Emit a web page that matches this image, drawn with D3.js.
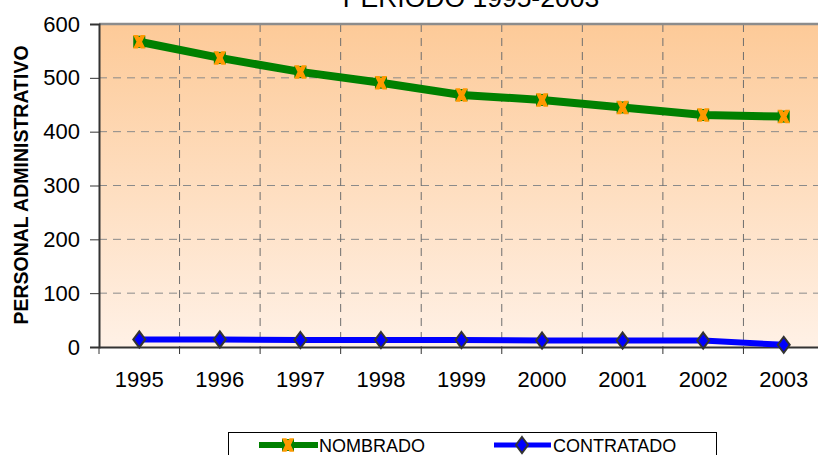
<!DOCTYPE html>
<html>
<head>
<meta charset="utf-8">
<script src="https://cdn.jsdelivr.net/npm/d3@7"></script>
<style>
  body { margin: 0; background: #fff; }
  svg { display: block; font-family: Arial, "Liberation Sans", sans-serif; }
</style>
</head>
<body>
<svg width="818" height="455"></svg>
<script>
var years = ["1995", "1996", "1997", "1998", "1999", "2000", "2001", "2002", "2003"];
var nombrado = [567, 537, 511, 491, 468, 459, 445, 431, 428];
var contratado = [14, 14, 13, 13, 13, 12, 12, 12, 4];
var yTicks = [0, 100, 200, 300, 400, 500, 600];

var svg = d3.select("svg"),
    margin = {top: 24, left: 99},
    width = 725,
    height = 323;

var x = d3.scaleBand().domain(years).range([0, width]),
    y = d3.scaleLinear().domain([0, 600]).range([height, 0]);

var defs = svg.append("defs");
var grad = defs.append("linearGradient").attr("id", "bg")
    .attr("x1", 0).attr("y1", 0).attr("x2", 0).attr("y2", 1);
grad.append("stop").attr("offset", "0%").attr("stop-color", "#fdca98");
grad.append("stop").attr("offset", "100%").attr("stop-color", "#fff1e6");

// title (cut off at top like the original)
svg.append("text")
    .attr("x", 471).attr("y", 7)
    .attr("text-anchor", "middle")
    .attr("font-size", 26.5)
    .text("PERIODO 1995-2003");

var g = svg.append("g")
    .attr("transform", "translate(" + margin.left + "," + margin.top + ")");

g.append("rect")
    .attr("width", width).attr("height", height)
    .attr("fill", "url(#bg)");

// horizontal grid
g.selectAll(".hgrid")
  .data(yTicks.filter(function(d) { return d > 0 && d < 600; }))
  .enter().append("line")
    .attr("x1", 0).attr("x2", width)
    .attr("y1", function(d) { return y(d); })
    .attr("y2", function(d) { return y(d); })
    .attr("stroke", "#8a8a8a")
    .attr("stroke-dasharray", "8,6");

// vertical grid at category boundaries
g.selectAll(".vgrid")
  .data(years.slice(1))
  .enter().append("line")
    .attr("x1", function(d) { return x(d); })
    .attr("x2", function(d) { return x(d); })
    .attr("y1", 0).attr("y2", height)
    .attr("stroke", "#6e6e6e")
    .attr("stroke-dasharray", "8,6");

// top border
g.append("line")
    .attr("x1", 0).attr("x2", width)
    .attr("y1", 0).attr("y2", 0)
    .attr("stroke", "#8c8c8c").attr("stroke-width", 2.5);

// y axis
var yAxis = g.append("g")
    .call(d3.axisLeft(y).tickValues(yTicks).tickSize(9).tickPadding(10));
yAxis.select(".domain").attr("stroke", "#333").attr("stroke-width", 2);
yAxis.selectAll("line").attr("stroke", "#333");
yAxis.selectAll("text").attr("font-size", 22).attr("fill", "#000")
    .attr("font-family", "Arial, Liberation Sans, sans-serif");

// x axis with ticks at band boundaries
var xAxis = g.append("g")
    .attr("transform", "translate(0," + height + ")")
    .call(d3.axisBottom(x).tickSize(0).tickPadding(24));
xAxis.select(".domain").attr("stroke", "#333").attr("stroke-width", 2);
xAxis.selectAll("text").attr("font-size", 22).attr("fill", "#000")
    .attr("font-family", "Arial, Liberation Sans, sans-serif");
xAxis.selectAll(".bnd")
  .data(years)
  .enter().append("line")
    .attr("x1", function(d) { return x(d); })
    .attr("x2", function(d) { return x(d); })
    .attr("y1", 0).attr("y2", 7)
    .attr("stroke", "#333");

svg.append("text")
    .attr("transform", "translate(28,185) rotate(-90)")
    .attr("text-anchor", "middle")
    .attr("font-size", 19.5)
    .attr("font-weight", "bold")
    .text("PERSONAL ADMINISTRATIVO");

var cx = function(i) { return x(years[i]) + x.bandwidth() / 2; };

var line = d3.line()
    .x(function(d, i) { return cx(i); })
    .y(function(d) { return y(d); });

g.append("path").datum(nombrado)
    .attr("d", line).attr("fill", "none")
    .attr("stroke", "#008000").attr("stroke-width", 8);

g.append("path").datum(contratado)
    .attr("d", line).attr("fill", "none")
    .attr("stroke", "#0000ff").attr("stroke-width", 6);

// orange x markers on a green square
var xMark = "M-5,-6 L-2,-6 L0,-3 L2,-6 L5,-6 L2,0 L5,6 L2,6 L0,3 L-2,6 L-5,6 L-2,0 Z";
function drawX(sel) {
  sel.append("rect").attr("x", -6).attr("y", -6).attr("width", 12).attr("height", 12)
      .attr("fill", "#008000");
  sel.append("path").attr("d", xMark).attr("fill", "#ff9900")
      .attr("stroke", "#ff9900").attr("stroke-width", 1.5);
}
g.selectAll(".mx")
  .data(nombrado)
  .enter().append("g")
    .attr("transform", function(d, i) { return "translate(" + cx(i) + "," + y(d) + ")"; })
    .call(drawX);

var diamond = "M0,-8 L6,0 L0,8 L-6,0 Z";
g.selectAll(".md")
  .data(contratado)
  .enter().append("path")
    .attr("transform", function(d, i) { return "translate(" + cx(i) + "," + y(d) + ")"; })
    .attr("d", diamond)
    .attr("fill", "#0000ff")
    .attr("stroke", "#333").attr("stroke-width", 2);

// legend
var lg = svg.append("g");
lg.append("rect")
    .attr("x", 228.5).attr("y", 432.5).attr("width", 488).attr("height", 30)
    .attr("fill", "#fff").attr("stroke", "#000");

lg.append("line").attr("x1", 259).attr("x2", 318).attr("y1", 445).attr("y2", 445)
    .attr("stroke", "#008000").attr("stroke-width", 6);
lg.append("g").attr("transform", "translate(288,445)").call(drawX);
lg.append("text").attr("x", 319).attr("y", 452)
    .attr("font-size", 18).text("NOMBRADO");

lg.append("line").attr("x1", 494).attr("x2", 551).attr("y1", 445).attr("y2", 445)
    .attr("stroke", "#0000ff").attr("stroke-width", 5);
lg.append("path").attr("transform", "translate(522,445)")
    .attr("d", diamond).attr("fill", "#0000ff")
    .attr("stroke", "#333").attr("stroke-width", 2);
lg.append("text").attr("x", 553).attr("y", 452)
    .attr("font-size", 18).text("CONTRATADO");
</script>
</body>
</html>
